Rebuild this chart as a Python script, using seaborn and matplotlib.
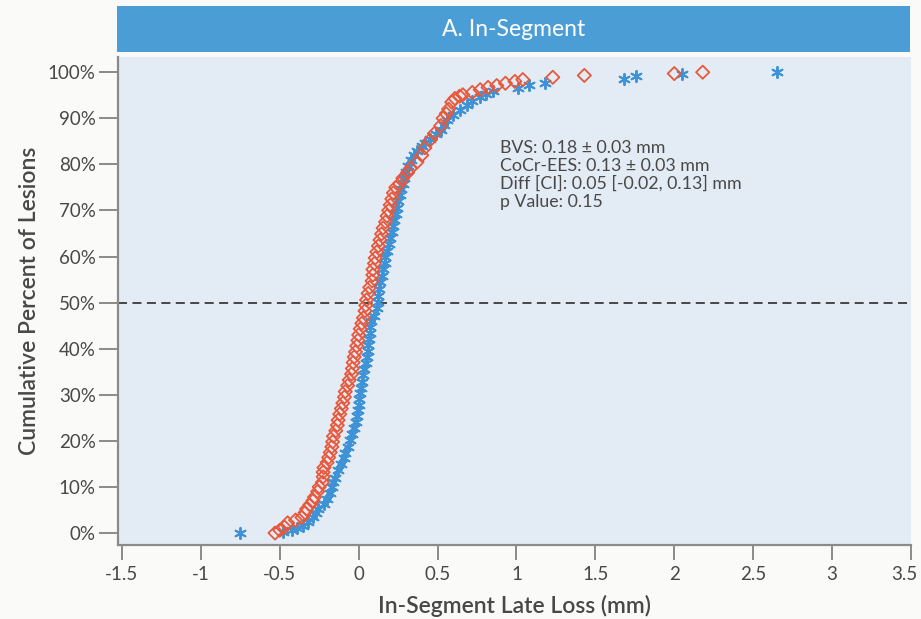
import matplotlib
matplotlib.use("Agg")
import matplotlib.pyplot as plt
import matplotlib.transforms as mtransforms
import seaborn as sns
import pandas as pd
from matplotlib.ticker import FuncFormatter

# ---- data ----
ees_loss = [-0.53, -0.50, -0.47, -0.45, -0.40, -0.36, -0.34, -0.33, -0.31, -0.29,
            -0.28, -0.26, -0.25, -0.23, -0.225, -0.225, -0.22, -0.20, -0.19, -0.18,
            -0.17, -0.165, -0.16, -0.145, -0.135, -0.13, -0.12, -0.11, -0.10, -0.09,
            -0.085, -0.07, -0.06, -0.045, -0.04, -0.035, -0.028, -0.02, -0.012, -0.005,
            0.0, 0.01, 0.02, 0.03, 0.04, 0.045, 0.05, 0.06, 0.07, 0.085,
            0.09, 0.09, 0.10, 0.105, 0.115, 0.125, 0.135, 0.145, 0.155, 0.17,
            0.18, 0.19, 0.20, 0.21, 0.22, 0.235, 0.26, 0.28, 0.31, 0.33,
            0.37, 0.40, 0.42, 0.45, 0.48, 0.52, 0.535, 0.555, 0.57, 0.59,
            0.61, 0.64, 0.66, 0.72, 0.77, 0.82, 0.875, 0.93, 0.99, 1.04,
            1.23, 1.43, 2.00, 2.18]
ees_pct = [0.0, 0.6, 1.3, 2.2, 2.8, 3.4, 4.4, 5.2, 6.1, 7.0,
           7.8, 9.0, 10.0, 11.0, 12.2, 13.2, 14.2, 15.3, 16.4, 17.5,
           18.7, 19.8, 21.0, 22.2, 23.4, 24.5, 25.8, 27.0, 28.2, 29.5,
           30.7, 32.0, 33.2, 34.5, 35.7, 37.0, 38.2, 39.3, 40.6, 41.8,
           43.0, 44.3, 45.5, 46.7, 48.2, 49.4, 50.6, 52.0, 53.3, 54.7,
           56.0, 57.2, 58.5, 59.7, 61.0, 62.3, 63.6, 64.9, 66.2, 67.5,
           68.8, 70.0, 71.2, 72.5, 73.8, 75.0, 75.8, 77.0, 78.2, 79.2,
           80.5, 82.0, 83.6, 85.2, 86.7, 88.4, 90.0, 91.0, 92.0, 93.5,
           94.3, 94.8, 95.1, 95.6, 96.2, 96.7, 97.1, 97.6, 98.0, 98.4,
           98.9, 99.3, 99.7, 100.0]

bvs_loss = [-0.75, -0.48, -0.42, -0.39, -0.35, -0.32, -0.29, -0.27, -0.26, -0.22,
            -0.20, -0.18, -0.17, -0.16, -0.15, -0.13, -0.11, -0.095, -0.085, -0.07,
            -0.055, -0.045, -0.03, -0.02, -0.012, -0.005, 0.0, 0.005, 0.01, 0.015,
            0.02, 0.03, 0.035, 0.045, 0.055, 0.06, 0.06, 0.065, 0.07, 0.075,
            0.08, 0.095, 0.115, 0.12, 0.125, 0.13, 0.135, 0.145, 0.155, 0.165,
            0.17, 0.18, 0.19, 0.20, 0.21, 0.22, 0.225, 0.235, 0.24, 0.25,
            0.26, 0.27, 0.28, 0.29, 0.30, 0.31, 0.33, 0.35, 0.37, 0.40,
            0.42, 0.45, 0.49, 0.52, 0.54, 0.56, 0.60, 0.64, 0.685, 0.72,
            0.77, 0.81, 0.85, 1.01, 1.08, 1.18, 1.68, 1.76, 2.05, 2.65]
bvs_pct = [0.0, 0.3, 0.7, 1.0, 1.6, 2.4, 3.5, 4.4, 5.2, 6.2,
           7.3, 8.7, 10.0, 11.0, 12.0, 13.6, 15.0, 16.2, 17.4, 18.7,
           20.1, 21.4, 22.7, 24.0, 25.3, 26.7, 27.8, 29.0, 30.3, 31.5,
           32.8, 34.3, 35.5, 36.9, 38.2, 39.5, 40.8, 42.0, 43.4, 44.7,
           46.0, 47.2, 48.8, 50.2, 51.5, 53.0, 54.4, 55.7, 57.2, 58.6,
           60.0, 61.3, 62.7, 64.0, 65.3, 66.6, 68.0, 69.3, 70.6, 72.0,
           73.3, 74.6, 75.8, 77.0, 78.3, 79.6, 81.0, 82.0, 83.0, 84.0,
           84.7, 85.5, 86.6, 87.5, 88.5, 89.6, 90.7, 91.8, 92.8, 93.8,
           94.6, 95.3, 95.9, 96.5, 97.3, 97.7, 98.5, 99.2, 99.6, 100.0]

x_ticks = [-1.5, -1, -0.5, 0, 0.5, 1, 1.5, 2, 2.5, 3, 3.5]
y_ticks = [0, 10, 20, 30, 40, 50, 60, 70, 80, 90, 100]
panel_title = "A. In-Segment"
stats_lines = ["BVS: 0.18 \u00b1 0.03 mm",
               "CoCr-EES: 0.13 \u00b1 0.03 mm",
               "Diff [CI]: 0.05 [-0.02, 0.13] mm",
               "p Value: 0.15"]

# ---- style ----
sns.set_theme(style="white")
plt.rcParams["font.family"] = ["Lato", "DejaVu Sans"]

RED = "#E8583B"
BLUE = "#3E93D6"
GRAY_TXT = "#484848"
AX_BG = "#E3EBF5"

W, H = 921, 619
fig = plt.figure(figsize=(W / 100, H / 100), dpi=100, facecolor="#FAFAF8")

# main axes
l, r, t, b = 118, 911, 57, 545
ax = fig.add_axes([l / W, 1 - b / H, (r - l) / W, (b - t) / H])
ax.set_facecolor(AX_BG)

df_ees = pd.DataFrame({"loss": ees_loss, "pct": ees_pct})
df_bvs = pd.DataFrame({"loss": bvs_loss, "pct": bvs_pct})

ax.axhline(50, color="#3a3a3a", lw=1.3, ls=(0, (5, 3)), zorder=1)

sns.scatterplot(data=df_bvs, x="loss", y="pct", ax=ax, marker=(6, 2, 0),
                s=65, color=BLUE, edgecolor=BLUE, linewidth=1.4, zorder=3)
sns.scatterplot(data=df_ees, x="loss", y="pct", ax=ax, marker="D",
                s=45, facecolor="none", edgecolor=RED, linewidth=1.3, zorder=4)

ax.set_xlim(-1.525, 3.5)
ax.set_ylim(-2.6, 103.3)
ax.set_xticks(x_ticks)
ax.set_xticklabels([("%g" % v) for v in x_ticks])
ax.set_yticks(y_ticks)
ax.yaxis.set_major_formatter(FuncFormatter(lambda v, p: "%d%%" % v))

for s in ["top", "right"]:
    ax.spines[s].set_visible(False)
for s in ["left", "bottom"]:
    ax.spines[s].set_color("#8a8a8a")
    ax.spines[s].set_linewidth(1.6)

ax.tick_params(axis="both", which="major", direction="out", length=14, width=1.4,
               color="#8a8a8a", labelcolor=GRAY_TXT, labelsize=13.5, pad=2,
               bottom=True, left=True)
ax.tick_params(axis="x", length=11, pad=4)

# keep the last x label inside the figure
last = ax.get_xticklabels()[-1]
last.set_transform(last.get_transform() +
                   mtransforms.ScaledTranslation(-5 / 72, 0, fig.dpi_scale_trans))

ax.set_xlabel("In-Segment Late Loss (mm)", fontsize=16.5, color=GRAY_TXT,
              fontweight="semibold", labelpad=9)
ax.set_ylabel("Cumulative Percent of Lesions", fontsize=16.5, color=GRAY_TXT,
              fontweight="semibold", labelpad=6)

ax.text(0.895, 85.2, "\n".join(stats_lines), fontsize=12.8, color=GRAY_TXT,
        va="top", ha="left", linespacing=1.12)

# title bar
tax = fig.add_axes([117 / W, 1 - 52 / H, (910 - 117) / W, 46 / H])
tax.set_facecolor("#4A9DD5")
tax.set_xticks([])
tax.set_yticks([])
for s in tax.spines.values():
    s.set_visible(False)
tax.text(0.5, 0.5, panel_title, color="white", fontsize=16.5, ha="center",
         va="center", transform=tax.transAxes)

fig.savefig("out.png", dpi=100, facecolor=fig.get_facecolor())
